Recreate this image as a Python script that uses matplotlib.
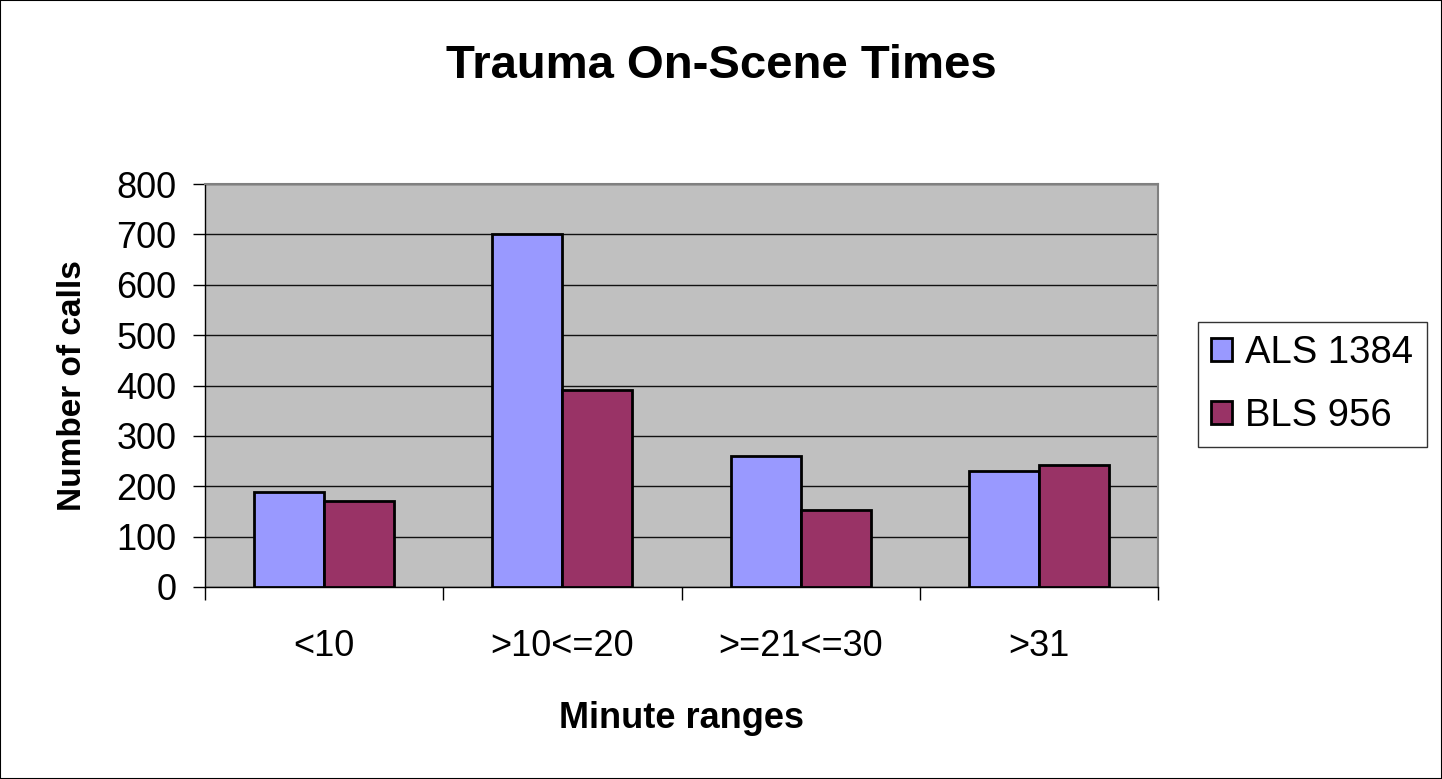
import matplotlib.pyplot as plt
import numpy as np
from matplotlib.patches import Rectangle

plt.rcParams['font.family'] = ['Liberation Sans', 'DejaVu Sans']

categories = ["<10", ">10<=20", ">=21<=30", ">31"]
als = [188, 700, 260, 230]
bls = [171, 391, 153, 242]
series_names = ["ALS 1384", "BLS 956"]

W, H = 1442, 779
fig = plt.figure(figsize=(W / 100, H / 100), dpi=100)
# plot area in pixels: x 205..1158, y 184..587
ax = fig.add_axes([205 / W, 1 - 587 / H, (1158 - 205) / W, (587 - 184) / H])
ax.set_facecolor("#C0C0C0")

x = np.arange(len(categories))
w = 0.294
ax.bar(x - w / 2, als, w, color="#9999FF", edgecolor="black", linewidth=2, label=series_names[0], zorder=3)
ax.bar(x + w / 2, bls, w, color="#993366", edgecolor="black", linewidth=2, label=series_names[1], zorder=3)

ax.set_ylim(0, 800)
ax.set_xlim(-0.5, len(categories) - 0.5)
ax.set_yticks(range(0, 801, 100))
ax.yaxis.grid(True, color="#111111", linewidth=1, zorder=1)
ax.set_axisbelow(True)

ax.set_xticks(x)
ax.set_xticklabels(categories, fontsize=26)
ax.set_xticks(np.arange(-0.5, len(categories), 1), minor=True)
ax.tick_params(axis="x", which="major", length=0, pad=30)
ax.tick_params(axis="x", which="minor", length=9.4, width=1, color="black")
ax.tick_params(axis="y", labelsize=26, length=8.6, width=1, pad=12)

for s in ["top", "right"]:
    ax.spines[s].set_color("#808080")
    ax.spines[s].set_linewidth(1.5)
for s in ["left", "bottom"]:
    ax.spines[s].set_color("black")
    ax.spines[s].set_linewidth(1)

ax.set_xlabel("Minute ranges", fontsize=26, fontweight="bold", va="baseline")
ax.xaxis.set_label_coords(0.5, (587 - 728) / 403)
ax.set_ylabel("Number of calls", fontsize=24, fontweight="bold", va="center")
ax.yaxis.set_label_coords((73 - 205) / 953, 0.5)

fig.text(721 / W, 1 - 78 / H, "Trauma On-Scene Times", fontsize=34, fontweight="bold",
         ha="center", va="baseline")

leg = fig.legend(loc="upper left", bbox_to_anchor=(1198 / W, 1 - 322 / H), fontsize=27.5,
                 frameon=True, fancybox=False, edgecolor="black", handlelength=0.55,
                 handleheight=0.55, handletextpad=0.34, labelspacing=0.69, borderpad=0.35,
                 borderaxespad=0)
leg.get_frame().set_linewidth(1)

fig.patches.append(Rectangle((0, 0), 1, 1, transform=fig.transFigure, fill=False,
                             edgecolor="black", linewidth=1.5))

fig.savefig("out.png", dpi=100)
